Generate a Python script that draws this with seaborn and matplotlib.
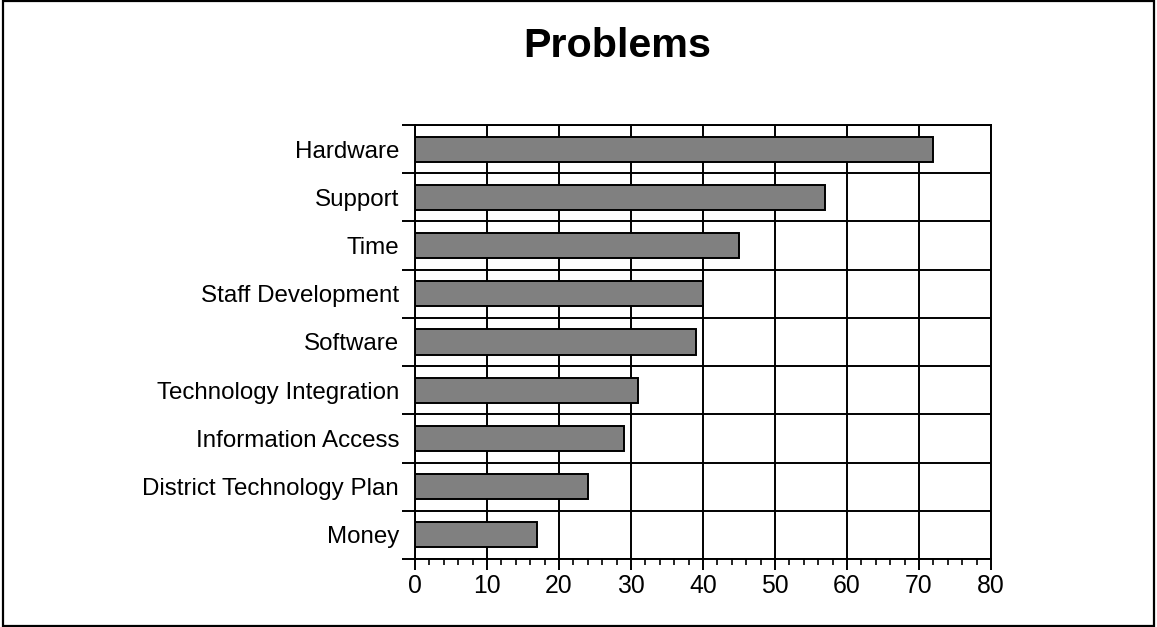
import matplotlib
matplotlib.use("Agg")
import matplotlib.pyplot as plt
from matplotlib.patches import Rectangle
from matplotlib.ticker import MultipleLocator, FixedLocator
import seaborn as sns
import pandas as pd

categories = [
    "Hardware",
    "Support",
    "Time",
    "Staff Development",
    "Software",
    "Technology Integration",
    "Information Access",
    "District Technology Plan",
    "Money",
]
counts = [72, 57, 45, 40, 39, 31, 29, 24, 17]
x_ticks = [0, 10, 20, 30, 40, 50, 60, 70, 80]
title = "Problems"

sns.set_theme(style="white")
plt.rcParams["font.family"] = ["Liberation Sans", "DejaVu Sans"]

df = pd.DataFrame({"category": categories, "count": counts})

fig = plt.figure(figsize=(11.57, 6.27), dpi=100)
ax = fig.add_axes([415 / 1157, 1 - 559 / 627, 576 / 1157, 434 / 627])

sns.barplot(
    data=df, x="count", y="category", orient="h", order=categories,
    color="#808080", saturation=1, edgecolor="black", linewidth=1.4,
    width=0.52, ax=ax,
)

ax.set_axisbelow(True)
ax.set_xlim(x_ticks[0], x_ticks[-1])
ax.set_ylim(len(categories) - 0.5, -0.5)
ax.set_xlabel("")
ax.set_ylabel("")

# x axis: major ticks every 10, minor every 2, all pointing down
ax.xaxis.set_major_locator(FixedLocator(x_ticks))
ax.xaxis.set_minor_locator(MultipleLocator(2))
ax.tick_params(axis="x", which="major", direction="out", length=8, width=1.4,
               color="black", labelsize=17.8, pad=2.5, labelcolor="black", bottom=True)
ax.tick_params(axis="x", which="minor", direction="out", length=4.3, width=1.2,
               color="black", bottom=True)

# y axis: separators between categories, protruding to the left
boundaries = [i - 0.5 for i in range(len(categories) + 1)]
ax.yaxis.set_minor_locator(FixedLocator(boundaries))
ax.tick_params(axis="y", which="major", length=0, labelsize=17.4, pad=11.5,
               labelcolor="black")
ax.tick_params(axis="y", which="minor", direction="out", length=9.4, width=1.4,
               color="black", left=True)

ax.grid(axis="x", which="major", color="black", linewidth=1.4)
ax.grid(axis="y", which="minor", color="black", linewidth=1.4)
ax.grid(axis="y", which="major", visible=False)

for side in ["left", "right", "top", "bottom"]:
    ax.spines[side].set_visible(True)
    ax.spines[side].set_color("black")
    ax.spines[side].set_linewidth(1.4)

fig.text(617 / 1157, 1 - 46 / 627, title, ha="center", va="center",
         fontsize=29.7, fontweight="bold", color="black")

# frame around the whole figure
fig.patches.append(Rectangle((3 / 1157, 1 / 627), 1151 / 1157, 625 / 627,
                             transform=fig.transFigure, fill=False,
                             edgecolor="black", linewidth=1.6))

fig.savefig("out.png", dpi=100)
